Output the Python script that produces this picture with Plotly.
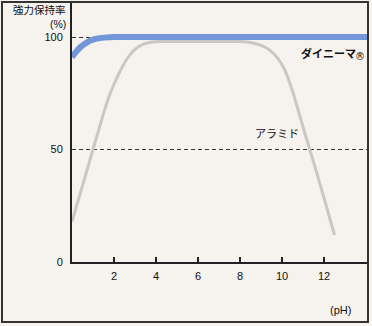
import plotly.graph_objects as go

# ---- data ----
dyneema_ph = [0, 0.2, 0.4, 0.7, 1.0, 1.4, 2.0, 4.0, 8.0, 12.0, 14.05]
dyneema_val = [91, 93.5, 95.5, 97.5, 98.8, 99.6, 100, 100, 100, 100, 100]

aramid_ph = [0, 0.5, 1.0, 1.5, 1.8, 2.0, 2.3, 2.6, 3.0, 3.4, 3.8, 4.2, 5, 6, 7, 8,
             8.5, 9.0, 9.4, 9.8, 10.1, 10.5, 11.0, 11.5, 12.0, 12.5]
aramid_val = [18, 34, 50, 66, 74.5, 79, 85, 90, 94.5, 96.8, 97.8, 98, 98, 98, 98, 98,
              97.6, 96.3, 94.3, 90.5, 86, 76, 60, 44.5, 28.5, 12]

x_ticks = [2, 4, 6, 8, 10, 12]
y_ticks = [0, 50, 100]

# ---- layout geometry (pixels) ----
W, H = 372, 326
L, R, T, B = 72, 5, 3, 64
PX_PER_PH = 21.0
PX_PER_PCT = 2.25
plot_w = W - L - R
plot_h = H - T - B
x_max = plot_w / PX_PER_PH
y_max = plot_h / PX_PER_PCT

def px(xp):
    return (xp - L) / plot_w

def py(yp):
    return (H - B - yp) / plot_h

BG = "#f6f2ed"
FONT = "Noto Sans CJK JP"
NUMFONT = "Liberation Sans"

fig = go.Figure()
fig.add_trace(go.Scatter(x=aramid_ph, y=aramid_val, mode="lines",
                         line=dict(color="#c8c8c6", width=3, shape="spline", smoothing=0.6),
                         hoverinfo="skip", showlegend=False))
fig.add_trace(go.Scatter(x=dyneema_ph, y=dyneema_val, mode="lines",
                         line=dict(color="#7396da", width=6, shape="spline", smoothing=0.8),
                         hoverinfo="skip", showlegend=False))

fig.update_layout(
    width=W, height=H,
    margin=dict(l=L, r=R, t=T, b=B),
    paper_bgcolor=BG, plot_bgcolor=BG,
    font=dict(family=FONT, size=11, color="#111"),
    xaxis=dict(range=[0, x_max], tickvals=x_ticks, ticks="inside", ticklen=5,
               tickcolor="#222", tickwidth=1.5, showgrid=False, zeroline=False,
               showline=True, linecolor="#222", linewidth=2, ticklabelstandoff=3,
               tickfont=dict(size=11, family=NUMFONT)),
    yaxis=dict(range=[0, y_max], tickvals=y_ticks, ticks="", showgrid=True,
               gridcolor="#333", griddash="4px,3px", gridwidth=1, zeroline=False,
               showline=True, linecolor="#222", linewidth=2, ticklabelstandoff=5,
               tickfont=dict(size=11, family=NUMFONT)),
    shapes=[dict(type="rect", xref="paper", yref="paper",
                 x0=px(2), x1=px(368), y0=py(322), y1=py(2),
                 line=dict(color="#333", width=2), fillcolor="rgba(0,0,0,0)", layer="above")],
    annotations=[
        dict(text="強力保持率", xref="paper", yref="paper", x=px(67), y=py(10),
             xanchor="right", yanchor="middle", showarrow=False, borderpad=0,
             font=dict(size=10.5)),
        dict(text="(%)", xref="paper", yref="paper", x=px(67), y=py(24),
             xanchor="right", yanchor="middle", showarrow=False, borderpad=0,
             font=dict(size=10.5, family=NUMFONT)),
        dict(text="(pH)", xref="paper", yref="paper", x=px(353), y=py(310),
             xanchor="right", yanchor="middle", showarrow=False,
             font=dict(size=11, family=NUMFONT)),
        dict(text="<b>ダイニーマ</b>", xref="paper", yref="paper", x=px(299), y=py(53),
             xanchor="left", yanchor="middle", showarrow=False, font=dict(size=11)),
        dict(text="®", xref="paper", yref="paper", x=px(354), y=py(56),
             xanchor="left", yanchor="middle", showarrow=False, borderpad=0,
             font=dict(size=10, family="DejaVu Sans")),
        dict(text="アラミド", x=8.6, y=57.5,
             xanchor="left", yanchor="middle", showarrow=False, font=dict(size=11)),
    ],
)

fig.write_html("out.html")
